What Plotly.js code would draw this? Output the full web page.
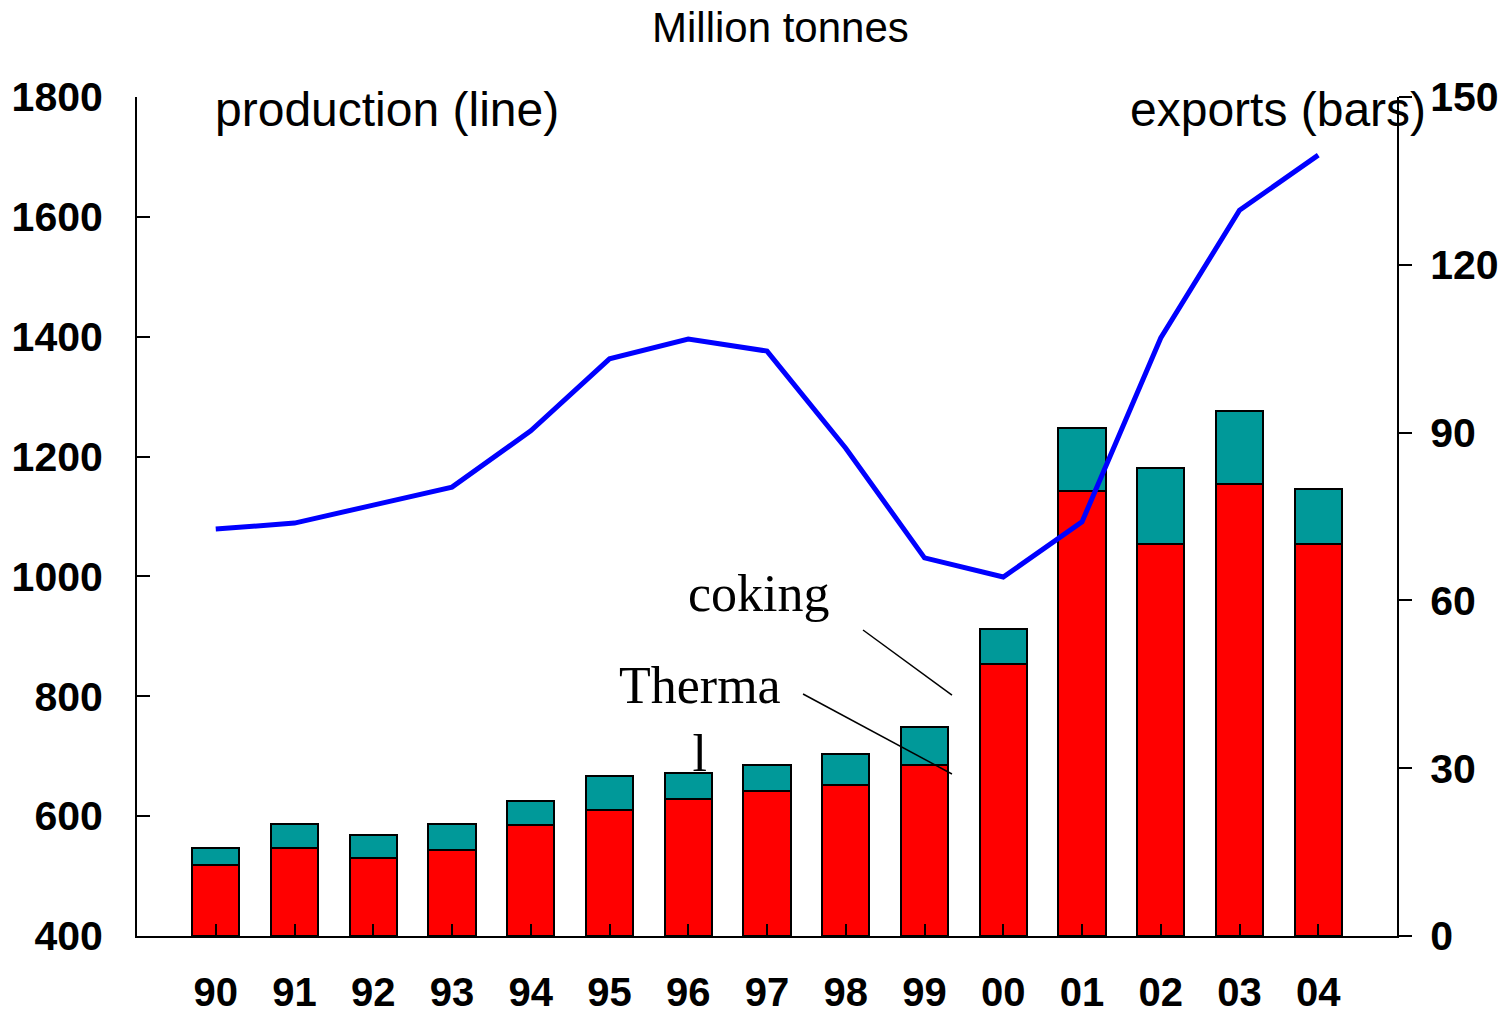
<!DOCTYPE html>
<html>
<head>
<meta charset="utf-8">
<script src="https://cdn.plot.ly/plotly-3.0.1.min.js"></script>
<style>html,body{margin:0;padding:0;background:#fff;}#chart{width:1512px;height:1013px;}</style>
</head>
<body>
<div id="chart"></div>
<script>
// Data
var years = ['90','91','92','93','94','95','96','97','98','99','00','01','02','03','04'];
var thermalExports = [12.7, 15.8, 13.9, 15.4, 19.8, 22.5, 24.5, 25.9, 27.0, 30.5, 48.6, 79.6, 70.1, 80.8, 70.1];
var cokingExports  = [3.1, 4.2, 4.2, 4.6, 4.3, 6.1, 4.6, 4.7, 5.5, 6.9, 6.3, 11.3, 13.6, 13.1, 9.8];
var production     = [1079, 1089, 1119, 1149, 1243, 1363, 1396, 1376, 1214, 1031, 999, 1091, 1398, 1611, 1703];
var leftTicks  = [400, 600, 800, 1000, 1200, 1400, 1600, 1800];
var rightTicks = [0, 30, 60, 90, 120, 150];

var sans = 'Liberation Sans, Arial, sans-serif';
var serif = 'Liberation Serif, Times New Roman, serif';

var traces = [
  {type:'bar', x: years, y: thermalExports, name:'Thermal', yaxis:'y', xaxis:'x',
   marker:{color:'#ff0000', line:{color:'#000', width:2}}, width:0.6},
  {type:'bar', x: years, y: cokingExports, name:'coking', yaxis:'y', xaxis:'x',
   marker:{color:'#009999', line:{color:'#000', width:2}}, width:0.6},
  {type:'scatter', mode:'lines', x: years, y: production, name:'production', yaxis:'y2', xaxis:'x',
   line:{color:'#0000ff', width:5}}
];

var layout = {
  width:1512, height:1013,
  margin:{l:137, r:115, t:97, b:77},
  paper_bgcolor:'#fff', plot_bgcolor:'#fff',
  showlegend:false,
  barmode:'stack',
  xaxis:{
    type:'category', range:[-1, 15], showgrid:false, zeroline:false,
    showline:true, linecolor:'#000', linewidth:2,
    ticks:'inside', ticklen:12, tickwidth:2, tickcolor:'#000',
    tickfont:{family:sans, size:40, color:'#000', weight:'bold'},
    ticklabelstandoff:20
  },
  yaxis:{
    side:'right', range:[0,150], tickvals:rightTicks, showgrid:false, zeroline:false,
    showline:true, linecolor:'#000', linewidth:2,
    ticks:'outside', ticklen:13, tickwidth:2, tickcolor:'#000',
    tickfont:{family:sans, size:41, color:'#000', weight:'bold'},
    ticklabelstandoff:10
  },
  yaxis2:{
    side:'left', overlaying:'y', range:[400,1800], tickvals:leftTicks, showgrid:false, zeroline:false,
    showline:true, linecolor:'#000', linewidth:2,
    ticks:'inside', ticklen:13, tickwidth:2, tickcolor:'#000',
    tickfont:{family:sans, size:41, color:'#000', weight:'bold'},
    ticklabelstandoff:24
  },
  annotations:[
    {text:'Million tonnes', xref:'paper', yref:'paper', x:0.511, y:1.0834, xanchor:'center', yanchor:'middle',
     showarrow:false, font:{family:sans, size:42, color:'#000'}},
    {text:'production (line)', xref:'paper', yref:'paper', x:0.0605, y:0.985, xanchor:'left', yanchor:'middle',
     showarrow:false, font:{family:sans, size:48, color:'#000'}},
    {text:'exports (bars)', xref:'paper', yref:'paper', x:1.0245, y:0.985, xanchor:'right', yanchor:'middle',
     showarrow:false, font:{family:sans, size:48, color:'#000'}},
    {text:'coking', xref:'paper', yref:'paper', x:0.4937, y:0.408, xanchor:'center', yanchor:'middle',
     showarrow:false, font:{family:serif, size:52, color:'#000'}},
    {text:'Therma<br>l', xref:'paper', yref:'paper', x:0.4468, y:0.258, xanchor:'center', yanchor:'middle',
     showarrow:false, font:{family:serif, size:52, color:'#000'}}
  ],
  shapes:[
    {type:'line', xref:'paper', yref:'paper', x0:0.5762, y0:0.3647, x1:0.6468, y1:0.2872, line:{color:'#000', width:1.5}},
    {type:'line', xref:'paper', yref:'paper', x0:0.5286, y0:0.2884, x1:0.6468, y1:0.1931, line:{color:'#000', width:1.5}}
  ]
};

Plotly.newPlot('chart', traces, layout, {displayModeBar:false, staticPlot:true});
</script>
</body>
</html>
